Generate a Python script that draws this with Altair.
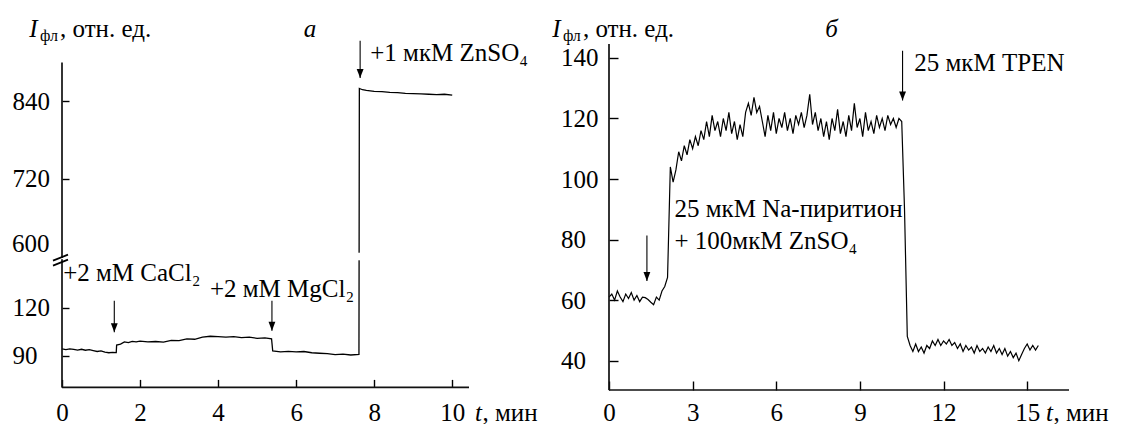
import altair as alt
import pandas as pd

FONT = "Liberation Serif"
FS = 25

# ---------------- panel a data ----------------
a_t = [0.00, 0.10, 0.20, 0.30, 0.40, 0.50, 0.60, 0.70, 0.80, 0.90, 1.00, 1.10, 1.20, 1.30, 1.39,
       1.40, 1.50, 1.60, 1.70, 1.80, 1.90, 2.00, 2.20, 2.40, 2.60, 2.80, 3.00, 3.20, 3.40, 3.60,
       3.80, 4.00, 4.20, 4.40, 4.60, 4.80, 5.00, 5.20, 5.37,
       5.40, 5.60, 5.80, 6.00, 6.20, 6.40, 6.60, 6.80, 7.00, 7.20, 7.40, 7.61,
       7.62, 7.70, 7.80, 8.00, 8.20, 8.40, 8.60, 8.80, 9.00, 9.20, 9.40, 9.60, 9.80, 10.00]
a_v = [94.2, 93.8, 94.3, 93.9, 93.5, 94.0, 93.4, 93.8, 93.2, 92.6, 93.0, 92.2, 91.8, 92.0, 91.9,
       96.6, 97.2, 98.6, 98.2, 99.0, 98.6, 99.1, 98.6, 98.9, 98.5, 99.6, 99.4, 100.5, 100.3, 101.6,
       102.2, 102.0, 101.6, 101.9, 101.3, 101.6, 100.9, 101.2, 100.6,
       92.9, 92.4, 92.7, 92.3, 92.6, 91.8, 91.5, 91.2, 90.6, 90.9, 90.4, 90.8,
       860.0, 858.0, 857.0, 855.5, 855.0, 854.0, 853.5, 852.5, 852.0, 851.5, 851.0, 850.5, 851.0, 849.5]

a_arrow_t = [1.34, 5.38, 7.64]
a_arrow_from = [124.6, 124.6, 933.8]
a_arrow_tip = [104.7, 105.7, 876.0]

a_lab = ["+2 мМ CaCl₂", "+2 мМ MgCl₂", "+1 мкМ ZnSO₄"]
a_lab_t = [0.03, 3.79, 7.90]
a_lab_v = [137.2, 126.7, 902.9]

a_yticks = [90, 120, 720, 840]
a_break_label = "600"
a_break_value = 620

# ---------------- panel b data ----------------
b_v = [61, 62, 60, 63, 61, 59.5, 62, 60.5, 62.5, 60, 61.5, 59.5, 61,
       60.8, 60.2, 59.3, 58.5, 61, 60, 63, 64.5, 67.5,
       104, 99, 103, 109, 106, 111, 108, 113, 110,
       114, 111, 116, 113, 119, 114, 121, 116, 119, 114, 120, 116, 122, 115, 119, 113, 118, 114,
       122, 125, 121, 127, 122, 124, 119,
       114, 121, 116, 122, 115, 120, 117, 122, 116, 120,
       115, 121, 118, 122, 117, 121, 128, 118, 122, 116,
       120, 114, 119, 113, 120, 116, 123, 115, 119, 114,
       121, 116, 125, 117, 120, 114, 122, 116, 119, 115,
       121, 117, 120, 116, 121, 118, 120, 117, 120, 119,
       90, 48, 45, 43, 45.5, 43, 44.5, 42.5, 45, 44,
       46.5, 45, 47, 45, 46.5, 45.5, 47, 45, 46, 44,
       45.5, 43, 45, 43.5, 44.5, 42.5, 45, 43, 44, 42.5,
       44.5, 43, 45, 42.5, 44, 42, 44, 41.5, 43, 41,
       42.5, 40, 42, 44, 45.5, 43.5, 45, 43.5, 45]
b_t = [round(i * 0.1, 1) for i in range(len(b_v))]

b_arrow_t = [1.36, 10.53]
b_arrow_from = [81.3, 142.4]
b_arrow_tip = [66.3, 125.9]

b_lab = ["25 мкМ Na-пиритион", "+ 100мкМ ZnSO₄", "25 мкМ TPEN"]
b_lab_t = [2.35, 2.35, 10.95]
b_lab_v = [87.4, 76.8, 135.6]

one = pd.DataFrame({"k": [0]})
HEAD = "M0,0L-0.38,-1L0.38,-1Z"


def axis(values, offset, tick, pad, orient_y=False):
    kw = dict(values=values, offset=offset, tickSize=tick, domain=False, grid=False,
              labelFont=FONT, labelFontSize=FS, labelColor="black", tickColor="black",
              tickWidth=1.4, labelPadding=pad, title=None, labelFlush=False)
    if orient_y:
        kw["labelAlign"] = "left"
    else:
        kw["labelBaseline"] = "alphabetic"
    return alt.Axis(**kw)


def ptext(txt, x, y, size=FS, style="normal", align="left"):
    mk = dict(text=txt, font=FONT, fontSize=size, align=align, baseline="alphabetic", color="black")
    if style != "normal":
        mk["fontStyle"] = style
    return alt.Chart(one).mark_text(**mk).encode(x=alt.value(x), y=alt.value(y))


def panel(t, v, arr_t, arr_from, arr_tip, lab, lab_t, lab_v, xenc, yenc, xmax, vmin, vtop,
          w, h, xI, letter, letter_x, tx, line_w, extras):
    line = alt.Chart(pd.DataFrame({"t": t, "v": v})).mark_line(
        color="black", strokeWidth=line_w, interpolate="linear").encode(x=xenc, y=yenc)
    arr = pd.DataFrame({"t": arr_t, "v": arr_from, "v2": arr_tip})
    rules = alt.Chart(arr).mark_rule(color="black", strokeWidth=1.1).encode(
        x=xenc, y=yenc, y2="v2:Q")
    heads = alt.Chart(pd.DataFrame({"t": arr_t, "v": arr_tip})).mark_point(
        shape=HEAD, size=324, filled=True, color="black", opacity=1, strokeWidth=0).encode(
        x=xenc, y=yenc)
    labs = alt.Chart(pd.DataFrame({"t": lab_t, "v": lab_v, "label": lab})).mark_text(
        font=FONT, fontSize=FS, align="left", baseline="alphabetic", color="black").encode(
        x=xenc, y=yenc, text="label:N")
    yline = alt.Chart(pd.DataFrame({"t": [0], "v": [vmin], "v2": [vtop]})).mark_rule(
        color="#111", strokeWidth=1.7).encode(x=xenc, y=yenc, y2="v2:Q")
    xline = alt.Chart(pd.DataFrame({"t": [0], "t2": [xmax], "v": [vmin]})).mark_rule(
        color="#111", strokeWidth=1.7).encode(x=xenc, x2="t2:Q", y=yenc)
    texts = [
        ptext("I", xI, -7.3, style="italic"),
        ptext("фл", xI + 10.7, -3.0, size=16),
        ptext(", отн. ед.", xI + 30.7, -7.3),
        ptext(letter, letter_x, -7.3, style="italic", align="center"),
        ptext("t", tx, 376.7, style="italic"),
        ptext(", мин", tx + 7.5, 376.7),
    ]
    layers = [line] + extras + [yline, xline, rules, heads, labs] + texts
    return alt.layer(*layers).properties(width=w, height=h)


# ---------- panel a ----------
WL, HL = 407, 343.4
xa = alt.X("t:Q", scale=alt.Scale(domain=[0, 10.43], nice=False, zero=False),
           axis=axis([0, 2, 4, 6, 8, 10], -8, 8, 33.3))
ya = alt.Y("v:Q", scale=alt.Scale(domain=[70, 150, 600, 928.7], range=[343.4, 216.3, 212.6, 0],
                                  nice=False, zero=False),
           axis=axis(a_yticks, -7, 7, 50, orient_y=True))

gap = alt.Chart(pd.DataFrame({"t": [7.45], "t2": [7.8], "v": [151], "v2": [606]})).mark_rect(
    color="white").encode(x=xa, x2="t2:Q", y=ya, y2="v2:Q")

lab600 = alt.Chart(pd.DataFrame({"t": [0], "v": [a_break_value], "label": [a_break_label]})).mark_text(
    font=FONT, fontSize=FS, align="left", baseline="middle", color="black", dx=-50).encode(
    x=xa, y=ya, text="label:N")

brk1 = alt.Chart(one).mark_rule(color="black", strokeWidth=1.8).encode(
    x=alt.value(-9), x2=alt.value(6), y=alt.value(216.7), y2=alt.value(210.7))
brk2 = alt.Chart(one).mark_rule(color="black", strokeWidth=1.8).encode(
    x=alt.value(-9), x2=alt.value(6), y=alt.value(221.7), y2=alt.value(215.7))
brkw = alt.Chart(one).mark_rule(color="white", strokeWidth=3).encode(
    x=alt.value(0), y=alt.value(215.2), y2=alt.value(214.0))

left = panel(a_t, a_v, a_arrow_t, a_arrow_from, a_arrow_tip, a_lab, a_lab_t, a_lab_v,
             xa, ya, 10.43, 70, 900, WL, HL, -32.7, "а", 248, 413, 1.3, [gap, lab600])
left = alt.layer(left, brkw, brk1, brk2)

# ---------- panel b ----------
WR, HR = 460, 346
xb = alt.X("t:Q", scale=alt.Scale(domain=[0, 16.5], nice=False, zero=False),
           axis=axis([0, 3, 6, 9, 12, 15], -9, 9, 30.7))
yb = alt.Y("v:Q", scale=alt.Scale(domain=[30.3, 144.6], nice=False, zero=False),
           axis=axis([40, 60, 80, 100, 120, 140], -9, 9, 48.5, orient_y=True))

right = panel(b_t, b_v, b_arrow_t, b_arrow_from, b_arrow_tip, b_lab, b_lab_t, b_lab_v,
              xb, yb, 16.5, 30.3, 144.6, WR, HR, -56.8, "б", 222.5, 437, 1.2, [])

chart = alt.hconcat(left, right, spacing=140, bounds="flush").configure(
    font=FONT).configure_view(stroke=None).properties(
    padding={"left": 4, "top": 8, "right": 0, "bottom": 0})

chart.save("out.html", embed_options={"renderer": "svg", "actions": False})
